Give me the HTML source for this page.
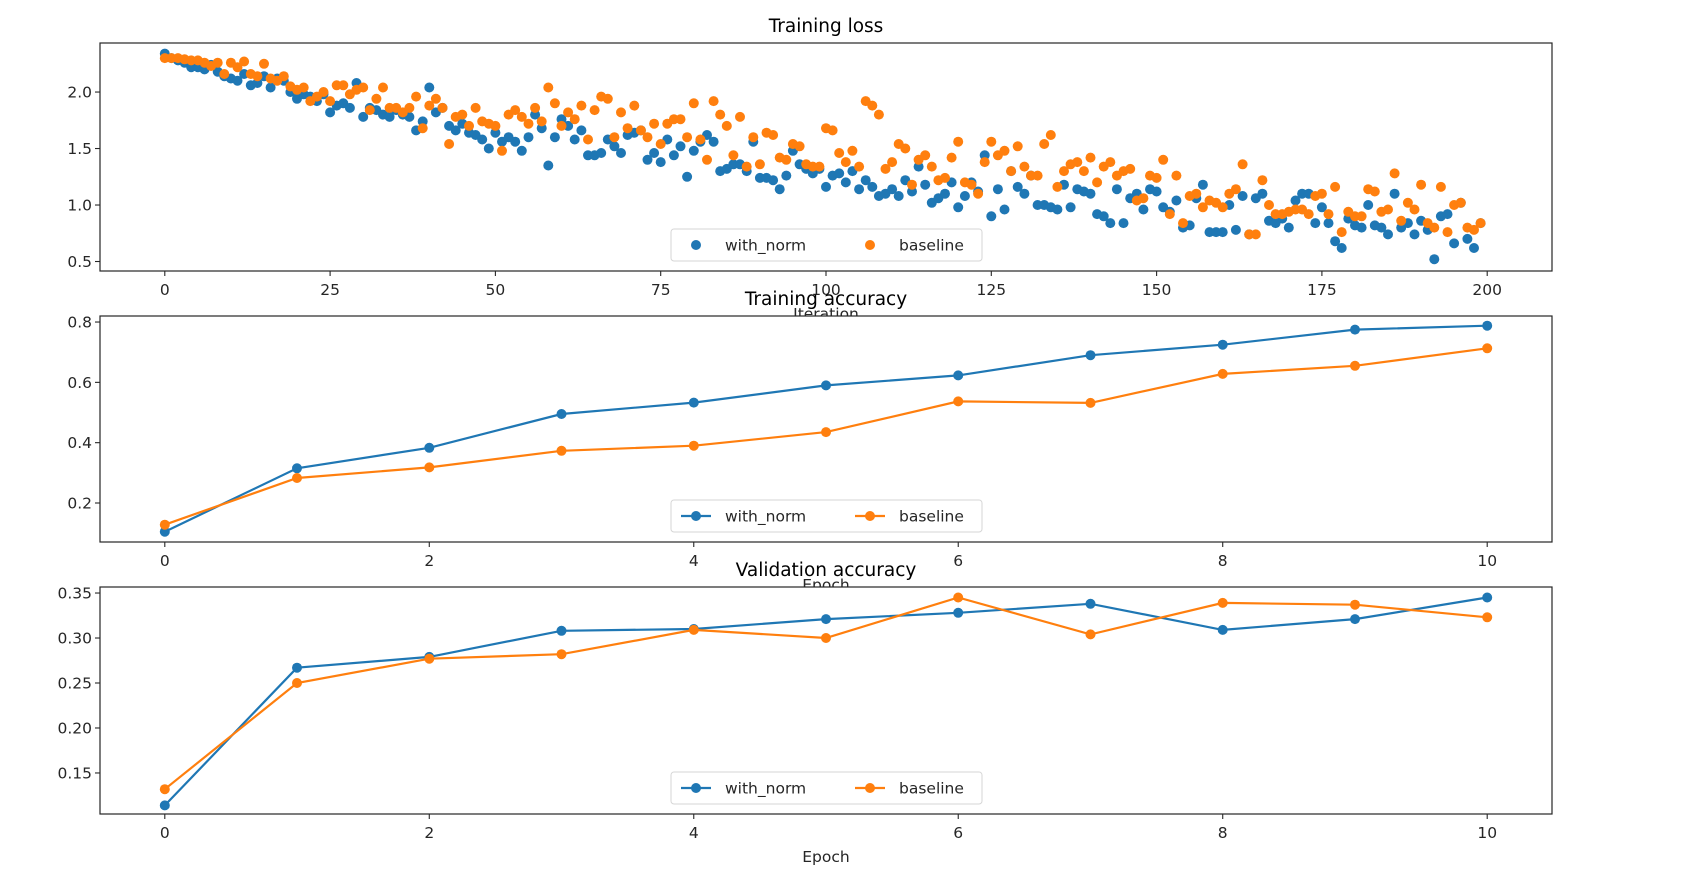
<!DOCTYPE html>
<html><head><meta charset="utf-8"><style>
html,body{margin:0;padding:0;background:#fff;}
svg{display:block;font-family:"DejaVu Sans","Liberation Sans",sans-serif;}
</style></head><body>
<svg id="fig" width="1703" height="881" viewBox="0 0 1703 881"></svg>
<script>
const lossIters = Array.from({length:200},(_,i)=>i);
const lossNorm = [2.34,2.30,2.28,2.26,2.22,2.22,2.20,2.24,2.18,2.14,
2.12,2.10,2.16,2.06,2.08,2.14,2.04,2.12,2.10,2.00,
1.94,1.98,1.96,1.92,1.98,1.82,1.88,1.90,1.86,2.08,
1.78,1.86,1.84,1.80,1.78,1.84,1.80,1.78,1.66,1.74,
2.04,1.82,1.86,1.70,1.66,1.72,1.64,1.62,1.58,1.50,
1.64,1.56,1.60,1.56,1.48,1.60,1.80,1.68,1.35,1.60,
1.76,1.70,1.58,1.66,1.44,1.44,1.46,1.58,1.52,1.46,
1.62,1.64,1.66,1.40,1.46,1.38,1.58,1.44,1.52,1.25,
1.48,1.56,1.62,1.56,1.30,1.32,1.36,1.36,1.30,1.56,
1.24,1.24,1.22,1.14,1.26,1.48,1.36,1.32,1.28,1.32,
1.16,1.26,1.28,1.20,1.30,1.14,1.22,1.16,1.08,1.10,
1.14,1.08,1.22,1.12,1.34,1.18,1.02,1.06,1.10,1.20,
0.98,1.08,1.20,1.12,1.44,0.90,1.14,0.96,1.30,1.16,
1.10,1.26,1.00,1.00,0.98,0.96,1.18,0.98,1.14,1.12,
1.10,0.92,0.90,0.84,1.14,0.84,1.06,1.10,0.96,1.14,
1.12,0.98,0.94,1.04,0.80,0.82,1.06,1.18,0.76,0.76,
0.76,1.00,0.78,1.08,0.74,1.06,1.10,0.86,0.84,0.88,
0.80,1.04,1.10,1.10,0.84,0.98,0.84,0.68,0.62,0.88,
0.82,0.80,1.00,0.82,0.80,0.74,1.10,0.80,0.84,0.74,
0.86,0.78,0.52,0.90,0.92,0.66,1.02,0.70,0.62,0.84];
const lossBase = [2.30,2.30,2.30,2.29,2.28,2.28,2.26,2.23,2.26,2.16,
2.26,2.22,2.27,2.16,2.14,2.25,2.12,2.10,2.14,2.05,
2.02,2.04,1.92,1.96,2.00,1.92,2.06,2.06,1.98,2.02,
2.04,1.84,1.94,2.04,1.86,1.86,1.82,1.86,1.96,1.68,
1.88,1.94,1.86,1.54,1.78,1.80,1.70,1.86,1.74,1.72,
1.70,1.48,1.80,1.84,1.78,1.72,1.86,1.74,2.04,1.90,
1.70,1.82,1.76,1.88,1.58,1.84,1.96,1.94,1.60,1.82,
1.68,1.88,1.66,1.60,1.72,1.54,1.72,1.76,1.76,1.60,
1.90,1.58,1.40,1.92,1.80,1.70,1.44,1.78,1.34,1.60,
1.36,1.64,1.62,1.42,1.40,1.54,1.52,1.36,1.34,1.34,
1.68,1.66,1.46,1.38,1.48,1.34,1.92,1.88,1.80,1.32,
1.38,1.54,1.50,1.18,1.40,1.44,1.34,1.22,1.24,1.42,
1.56,1.20,1.18,1.10,1.38,1.56,1.44,1.48,1.30,1.52,
1.34,1.26,1.26,1.54,1.62,1.16,1.30,1.36,1.38,1.30,
1.42,1.20,1.34,1.38,1.26,1.30,1.32,1.04,1.06,1.26,
1.24,1.40,0.92,1.26,0.84,1.08,1.10,0.98,1.04,1.02,
0.98,1.10,1.14,1.36,0.74,0.74,1.22,1.00,0.92,0.92,
0.94,0.96,0.96,0.92,1.08,1.10,0.92,1.16,0.76,0.94,
0.90,0.90,1.14,1.12,0.94,0.96,1.28,0.86,1.02,0.96,
1.18,0.84,0.80,1.16,0.76,1.00,1.02,0.80,0.78,0.84];
const epochs = [0,1,2,3,4,5,6,7,8,9,10];
const trainNorm = [0.105,0.315,0.383,0.495,0.533,0.590,0.623,0.690,0.725,0.775,0.788];
const trainBase = [0.128,0.283,0.318,0.373,0.390,0.435,0.537,0.532,0.628,0.655,0.713];
const valNorm = [0.114,0.267,0.279,0.308,0.310,0.321,0.328,0.338,0.309,0.321,0.345];
const valBase = [0.132,0.250,0.277,0.282,0.309,0.300,0.345,0.304,0.339,0.337,0.323];
const lossXTicks = [0,25,50,75,100,125,150,175,200];
const lossYTicks = [0.5,1.0,1.5,2.0];
const epochTicks = [0,2,4,6,8,10];
const trainYTicks = [0.2,0.4,0.6,0.8];
const valYTicks = [0.15,0.20,0.25,0.30,0.35];

const NS="http://www.w3.org/2000/svg";
const svg=document.getElementById('fig');
const BLUE="#1f77b4", ORANGE="#ff7f0e";
function mk(tag,attrs,parent){const e=document.createElementNS(NS,tag);for(const k in attrs)e.setAttribute(k,attrs[k]);(parent||svg).appendChild(e);return e;}

function panel(o){
  const g=mk('g',{});
  
  
  const L=100,R=1552,T=o.top,B=o.bottom;
  const sx=v=>L+(v-o.xmin)/(o.xmax-o.xmin)*(R-L);
  const sy=v=>B-(v-o.ymin)/(o.ymax-o.ymin)*(B-T);
  const bg=mk('rect',{x:L,y:T,width:R-L,height:B-T,fill:'#fff'},g);
  
  
  o.series.forEach(s=>{
    const sg=mk('g',{},g);
    
    
    if(s.line){
      const pts=s.x.map((x,i)=>sx(x).toFixed(1)+','+sy(s.y[i]).toFixed(1)).join(' ');
      const pl=mk('polyline',{points:pts,fill:'none',stroke:s.color,'stroke-width':2.2},sg);
      
      
    }
    s.x.forEach((x,i)=>{
      const c=mk('circle',{cx:sx(x).toFixed(1),cy:sy(s.y[i]).toFixed(1),r:5,fill:s.color},sg);
      
      
    });
  });
  const fr=mk('rect',{x:L,y:T,width:R-L,height:B-T,fill:'none',stroke:'#262626','stroke-width':1.2},g);
  
  
  o.xticks.forEach(v=>{
    const x=sx(v);
    mk('line',{x1:x,y1:B,x2:x,y2:B+5,stroke:'#262626','stroke-width':1.1},g);
    const t=mk('text',{x:x,y:B+24,'text-anchor':'middle','font-size':15.5,fill:'#262626'},g);
    t.textContent=String(v);
    
    
  });
  o.yticks.forEach(v=>{
    const y=sy(v);
    mk('line',{x1:L,y1:y,x2:L-5,y2:y,stroke:'#262626','stroke-width':1.1},g);
    const t=mk('text',{x:L-8,y:y+5.5,'text-anchor':'end','font-size':15.5,fill:'#262626'},g);
    t.textContent=v.toFixed(o.ydec);
    
    
  });
  const xl=mk('text',{x:(L+R)/2,y:B+48,'text-anchor':'middle','font-size':15.5,fill:'#262626'},g);
  xl.textContent=o.xlabel;
  
  
  const ti=mk('text',{x:(L+R)/2,y:T-11,'text-anchor':'middle','font-size':18.5,fill:'#000'},g);
  ti.textContent=o.title;
  
  
  const lx=671,lw=311,lh=32,ly=B-10-lh;
  const lg=mk('g',{},g);
  
  
  mk('rect',{x:lx,y:ly,width:lw,height:lh,rx:3,fill:'#fff','fill-opacity':0.8,stroke:'#d6d6d6','stroke-width':1},lg);
  const ents=[[o.series[0],lx+10],[o.series[1],lx+184]];
  ents.forEach(([s,ex])=>{
    const eg=mk('g',{},lg);
    
    
    const cy=ly+lh/2;
    if(s.line) mk('line',{x1:ex,y1:cy,x2:ex+30,y2:cy,stroke:s.color,'stroke-width':2.2},eg);
    mk('circle',{cx:ex+15,cy:cy,r:5,fill:s.color},eg);
    const t=mk('text',{x:ex+44,y:cy+5.5,'font-size':15.5,fill:'#262626'},eg);
    t.textContent=s.label;
  });
}

panel({name:'training-loss-panel',top:43,bottom:271,xmin:-9.8,xmax:209.8,ymin:0.416,ymax:2.434,
  xticks:lossXTicks,yticks:lossYTicks,ydec:1,xlabel:'Iteration',title:'Training loss',
  series:[{label:'with_norm',x:lossIters,y:lossNorm,color:BLUE,line:false},
          {label:'baseline',x:lossIters,y:lossBase,color:ORANGE,line:false}]});
panel({name:'training-accuracy-panel',top:316,bottom:542,xmin:-0.49,xmax:10.49,ymin:0.0707,ymax:0.820,
  xticks:epochTicks,yticks:trainYTicks,ydec:1,xlabel:'Epoch',title:'Training accuracy',
  series:[{label:'with_norm',x:epochs,y:trainNorm,color:BLUE,line:true},
          {label:'baseline',x:epochs,y:trainBase,color:ORANGE,line:true}]});
panel({name:'validation-accuracy-panel',top:587,bottom:814,xmin:-0.49,xmax:10.49,ymin:0.1044,ymax:0.3567,
  xticks:epochTicks,yticks:valYTicks,ydec:2,xlabel:'Epoch',title:'Validation accuracy',
  series:[{label:'with_norm',x:epochs,y:valNorm,color:BLUE,line:true},
          {label:'baseline',x:epochs,y:valBase,color:ORANGE,line:true}]});
</script>
</body></html>
